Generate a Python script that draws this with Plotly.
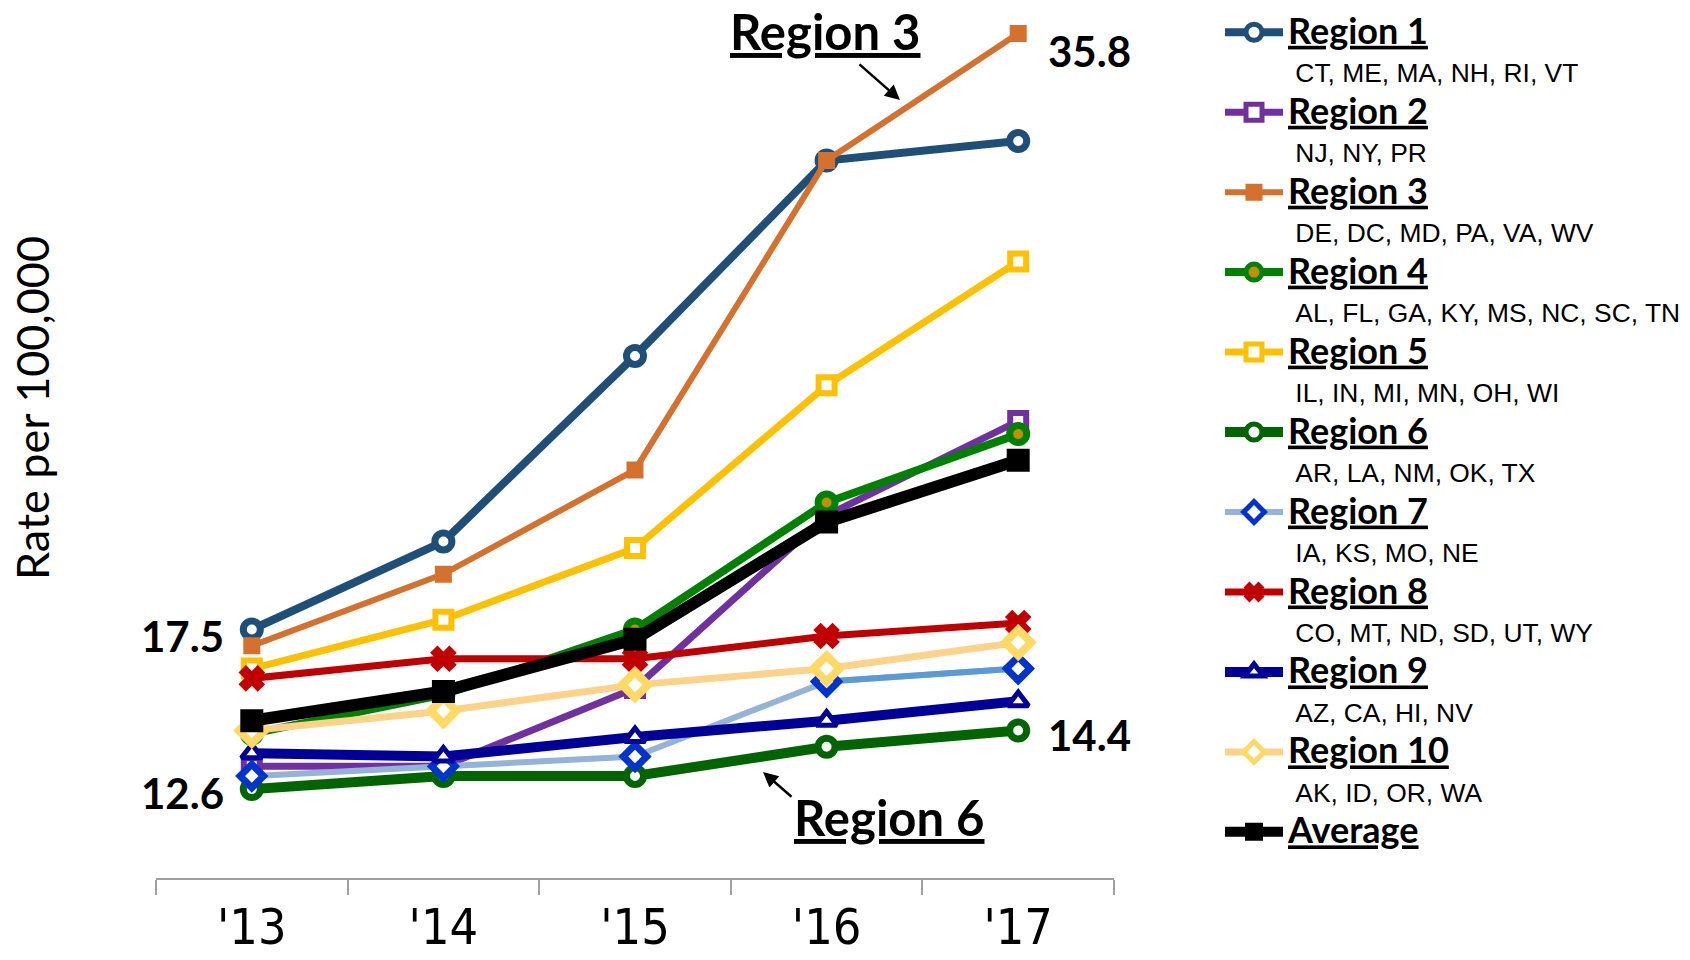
import plotly.graph_objects as go

# ---------------- data ----------------
years = ["'13", "'14", "'15", "'16", "'17"]
r1 = [17.5, 20.2, 25.9, 31.9, 32.5]
r2 = [13.3, 13.3, 15.7, 21.0, 23.9]
r3 = [17.0, 19.2, 22.4, 31.9, 35.8]
r4 = [14.3, 15.5, 17.5, 21.4, 23.5]
r5 = [16.3, 17.8, 20.0, 25.0, 28.8]
r6 = [12.6, 13.0, 13.0, 13.9, 14.4]
r7 = [13.0, 13.3, 13.6, 15.9, 16.3]
r8 = [16.0, 16.6, 16.6, 17.3, 17.7]
r9 = [13.7, 13.6, 14.2, 14.7, 15.3]
r10 = [14.4, 15.0, 15.8, 16.3, 17.1]
avg = [14.7, 15.6, 17.2, 20.8, 22.7]

names = ["Region 1", "Region 2", "Region 3", "Region 4", "Region 5", "Region 6",
         "Region 7", "Region 8", "Region 9", "Region 10", "Average"]
states = ["CT, ME, MA, NH, RI, VT", "NJ, NY, PR", "DE, DC, MD, PA, VA, WV",
          "AL, FL, GA, KY, MS, NC, SC, TN", "IL, IN, MI, MN, OH, WI",
          "AR, LA, NM, OK, TX", "IA, KS, MO, NE", "CO, MT, ND, SD, UT, WY",
          "AZ, CA, HI, NV", "AK, ID, OR, WA", ""]
values = [r1, r2, r3, r4, r5, r6, r7, r8, r9, r10, avg]

# ---------------- styles ----------------
styles = [
    dict(color="#1F4E79", lw=8, sym="circle", ms=17, fill="white", mc="#1F4E79", mlw=7),
    dict(color="#7030A0", lw=7, sym="square", ms=16, fill="white", mc="#7030A0", mlw=6),
    dict(color="#D4712F", lw=6, sym="square", ms=14, fill="#D4712F", mc="#D4712F", mlw=3),
    dict(color="#008000", lw=8, sym="circle", ms=17, fill="#BF9000", mc="#008000", mlw=7),
    dict(color="#FFC000", lw=7, sym="square", ms=16, fill="white", mc="#FFC000", mlw=6),
    dict(color="#006400", lw=10, sym="circle", ms=17, fill="white", mc="#006400", mlw=7),
    dict(color="#95B3D7", lw=6, sym="diamond", ms=18, fill="white", mc="#0033CC", mlw=7),
    dict(color="#C00000", lw=7, sym="x", ms=21, fill="#C00000", mc="#C00000", mlw=2),
    dict(color="#000099", lw=10, sym="triangle-up", ms=18, fill="white", mc="#000099", mlw=5),
    dict(color="#FFD28A", lw=7, sym="diamond", ms=20, fill="white", mc="#FFD966", mlw=8),
    dict(color="#000000", lw=12, sym="square", ms=21, fill="#000000", mc="#000000", mlw=2),
]

W, H = 1690, 960
L, R, T, B = 156, 576, 12, 82
PW, PH = W - L - R, H - T - B
Y_RANGE = [9.87, 36.46]


def xp(px):
    return (px - L) / PW


def yp(py):
    return (H - B - py) / PH


def legend_label(name, sub):
    title = "<span style='font-size:36px'><b><u>%s</u></b></span>" % name
    if sub:
        title += ("<br><span style='font-family:Liberation Sans, Arial; font-size:26.4px'>"
                  "&nbsp;%s</span>" % sub)
    return title


fig = go.Figure()
for i, (nm, st, vals, s) in enumerate(zip(names, states, values, styles)):
    fig.add_trace(go.Scatter(
        x=years, y=vals, mode="lines+markers", name=legend_label(nm, st),
        line=dict(color=s["color"], width=s["lw"]),
        marker=dict(symbol=s["sym"], size=s["ms"], color=s["fill"],
                    line=dict(color=s["mc"], width=s["mlw"])),
        hoverinfo="x+y",
    ))
    if nm == "Region 7":
        # last segment of Region 7 is drawn in a stronger blue
        fig.add_trace(go.Scatter(
            x=years[3:], y=vals[3:], mode="lines+markers", showlegend=False,
            line=dict(color="#5B9BD5", width=s["lw"]),
            marker=dict(symbol=s["sym"], size=s["ms"], color=s["fill"],
                        line=dict(color=s["mc"], width=s["mlw"])),
        ))

lab_font = dict(family="Lato", size=42, color="black")
annotations = [
    dict(x=years[0], y=r1[0], xref="x", yref="y", text="<b>%.1f</b>" % r1[0],
         xanchor="right", yanchor="middle", xshift=-26, yshift=-6, showarrow=False, font=lab_font),
    dict(x=years[0], y=r6[0], xref="x", yref="y", text="<b>%.1f</b>" % r6[0],
         xanchor="right", yanchor="middle", xshift=-26, yshift=-4, showarrow=False, font=lab_font),
    dict(x=years[-1], y=r3[-1], xref="x", yref="y", text="<b>%.1f</b>" % r3[-1],
         xanchor="left", yanchor="middle", xshift=28, yshift=-17, showarrow=False, font=lab_font),
    dict(x=years[-1], y=r6[-1], xref="x", yref="y", text="<b>%.1f</b>" % r6[-1],
         xanchor="left", yanchor="middle", xshift=28, yshift=-5, showarrow=False, font=lab_font),
    # callouts
    dict(x=xp(825), y=yp(0), xref="paper", yref="paper", text="<b><u>Region 3</u></b>",
         xanchor="center", yanchor="top", showarrow=False,
         font=dict(family="Lato", size=49, color="black")),
    dict(x=xp(900), y=yp(100), xref="paper", yref="paper", text="", showarrow=True,
         ax=-42, ay=-37, arrowhead=2, arrowsize=1.2, arrowwidth=2.5, arrowcolor="black"),
    dict(x=xp(889), y=yp(816.5), xref="paper", yref="paper", text="<b><u>Region 6</u></b>",
         xanchor="center", yanchor="middle", showarrow=False,
         font=dict(family="Lato", size=49, color="black")),
    dict(x=xp(763), y=yp(772), xref="paper", yref="paper", text="", showarrow=True,
         ax=30, ay=26, arrowhead=2, arrowsize=1.2, arrowwidth=2.5, arrowcolor="black"),
    # y axis title
    dict(x=xp(32), y=yp(408), xref="paper", yref="paper", text="Rate per 100,000",
         textangle=-90, xanchor="center", yanchor="middle", showarrow=False,
         font=dict(family="Lato", size=45, color="black")),
]

fig.update_layout(
    template="none",
    width=W, height=H,
    margin=dict(l=L, r=R, t=T, b=B, pad=0, autoexpand=False),
    paper_bgcolor="white", plot_bgcolor="white",
    showlegend=True,
    hovermode="closest",
    legend=dict(x=xp(1220), y=yp(6.5), xanchor="left", yanchor="top",
                font=dict(family="Lato", size=29.6, color="black"),
                itemwidth=58, valign="top", tracegroupgap=0, maxheight=1000,
                bgcolor="rgba(0,0,0,0)", borderwidth=0),
    xaxis=dict(type="category", range=[-0.5, 4.5], showline=True, linecolor="#A0A0A0",
               linewidth=1.5, ticks="outside", ticklen=15, tickcolor="#A0A0A0",
               tickwidth=1.5, tickson="boundaries", showgrid=False, zeroline=False,
               automargin=False, ticklabelstandoff=4,
               tickfont=dict(family="Liberation Sans Narrow, DejaVu Sans Condensed, Liberation Sans",
                             size=50, color="black")),
    yaxis=dict(range=Y_RANGE, showline=False, showgrid=False, zeroline=False,
               showticklabels=False, ticks="", automargin=False),
    annotations=annotations,
)

fig.write_html("out.html", config={"displayModeBar": False},
               post_script="document.body.style.margin='0';")
